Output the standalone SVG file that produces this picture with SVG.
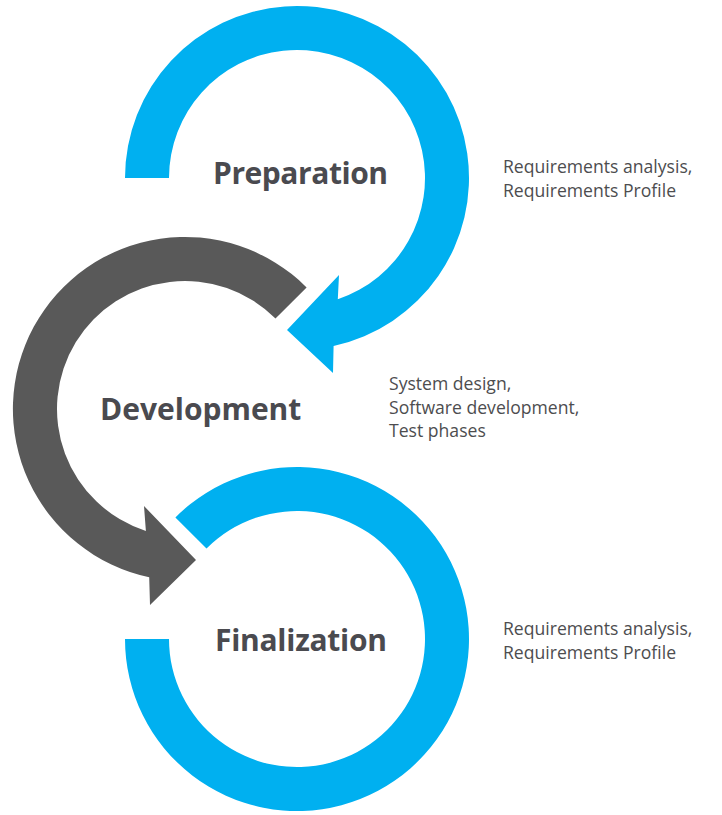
<svg xmlns="http://www.w3.org/2000/svg" width="722" height="815" viewBox="0 0 722 815">
<style>
.blue{fill:#00b0f0}
.gray{fill:#595959}
.title{font-family:"Open Sans","Liberation Sans",sans-serif;font-weight:700;font-size:30px;fill:#4a4a4f}
.desc{font-family:"Open Sans","Liberation Sans",sans-serif;font-size:17.6px;fill:#4d4d4f}
</style>
<rect width="722" height="815" fill="#ffffff"/>
<g id="connectors">
<path id="arrow-prep" class="blue" d="M125 178 A172 172 0 1 1 333.6 346 L333 373 L287 330 L339 275 L337.8 299.3 A128 128 0 1 0 169 178 Z"/>
<path id="arrow-dev" class="gray" d="M306.6 287.4 A172 172 0 1 0 149.2 577.2 L150 605 L196 560 L144 506 L145.9 530.9 A128 128 0 1 1 275.5 318.5 Z"/>
<path id="ring-final" class="blue" d="M125 639 A172 172 0 1 0 175.4 517.4 L206.5 548.5 A128 128 0 1 1 169 639 Z"/>
</g>
<g id="preparation">
<text class="title" x="213" y="184" textLength="175">Preparation</text>
<text class="desc" x="503" y="173">Requirements analysis,</text>
<text class="desc" x="503" y="197">Requirements Profile</text>
</g>
<g id="development">
<text class="title" x="100" y="420">Development</text>
<text class="desc" x="389" y="390">System design,</text>
<text class="desc" x="389" y="414">Software development,</text>
<text class="desc" x="389" y="437">Test phases</text>
</g>
<g id="finalization">
<text class="title" x="215" y="651" textLength="172">Finalization</text>
<text class="desc" x="503" y="635">Requirements analysis,</text>
<text class="desc" x="503" y="659">Requirements Profile</text>
</g>
</svg>
